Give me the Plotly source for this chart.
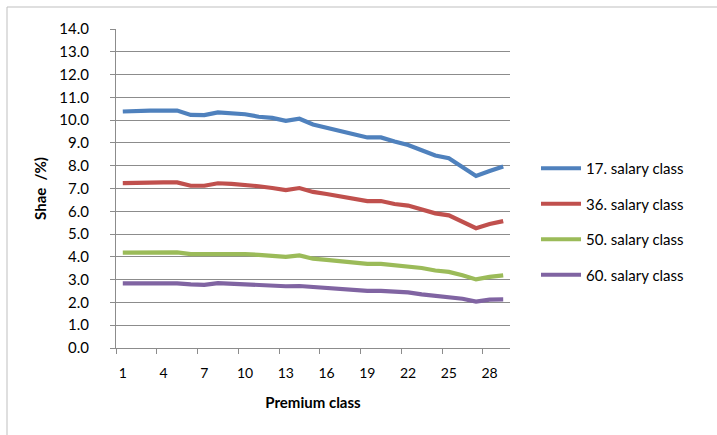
import plotly.graph_objects as go

# Premium classes 1..29
premium_class = list(range(1, 30))

share_17 = [10.38, 10.41, 10.42, 10.42, 10.42, 10.23, 10.22, 10.34, 10.32, 10.26,
            10.15, 10.10, 9.97, 10.06, 9.81, 9.68, 9.53, 9.38, 9.24, 9.24,
            9.06, 8.91, 8.68, 8.45, 8.33, 7.96, 7.55, 7.77, 7.97]
share_36 = [7.24, 7.26, 7.27, 7.27, 7.27, 7.12, 7.12, 7.23, 7.20, 7.17,
            7.10, 7.02, 6.93, 7.02, 6.85, 6.76, 6.67, 6.57, 6.45, 6.45,
            6.32, 6.25, 6.08, 5.91, 5.82, 5.54, 5.26, 5.44, 5.57]
share_50 = [4.19, 4.20, 4.20, 4.20, 4.20, 4.12, 4.12, 4.16, 4.13, 4.12,
            4.09, 4.04, 4.00, 4.06, 3.92, 3.87, 3.81, 3.74, 3.69, 3.69,
            3.63, 3.60, 3.51, 3.40, 3.34, 3.19, 3.01, 3.12, 3.19]
share_60 = [2.84, 2.84, 2.84, 2.84, 2.84, 2.79, 2.77, 2.85, 2.82, 2.81,
            2.75, 2.74, 2.71, 2.72, 2.68, 2.63, 2.59, 2.54, 2.51, 2.51,
            2.47, 2.44, 2.35, 2.29, 2.25, 2.16, 2.04, 2.12, 2.13]

series_names = ["17. salary class", "36. salary class", "50. salary class", "60. salary class"]
series_values = [share_17, share_36, share_50, share_60]
series_colors = ["#4F81BD", "#C0504D", "#9BBB59", "#8064A2"]

x_tick_labels = [str(v) for v in premium_class[::3]]
y_tick_values = list(range(0, 15))

FONT = "Lato"
GRID = "#8C8C8C"

fig = go.Figure()
for name, vals, col in zip(series_names, series_values, series_colors):
    fig.add_trace(go.Scatter(
        x=premium_class, y=vals, name=name, mode="lines",
        line=dict(color=col, width=4.2), legendgroup=name,
    ))

W, H = 717, 435
L, R, T, B = 116, 207, 29, 87
pw, ph = W - L - R, H - T - B


def px_x(p):
    return (p - L) / pw


def px_y(p):
    return (H - B - p) / ph


fig.update_layout(
    width=W, height=H,
    margin=dict(l=L, r=R, t=T, b=B),
    paper_bgcolor="white", plot_bgcolor="white",
    font=dict(family=FONT, size=14, color="#000000"),
    showlegend=True,
    legend=dict(
        x=px_x(536), xanchor="left", y=px_y(152), yanchor="top",
        font=dict(family=FONT, size=15, color="#000000"),
        tracegroupgap=13, itemwidth=40, traceorder="grouped",
        bgcolor="rgba(0,0,0,0)",
    ),
    xaxis=dict(
        range=[0.5, 29.5],
        tickmode="array", tickvals=premium_class[::3], ticktext=x_tick_labels,
        ticks="", showgrid=False, zeroline=False,
        showline=True, linecolor=GRID, linewidth=1,
        ticklabelstandoff=12,
        tickfont=dict(family=FONT, size=14),
        minor=dict(
            tickmode="array",
            tickvals=[v + 0.5 for v in range(0, 30, 3)],
            ticks="outside", ticklen=5, tickwidth=1, tickcolor=GRID,
            showgrid=False,
        ),
        title=dict(text="<b>Premium class</b>", font=dict(family=FONT, size=15), standoff=17),
    ),
    yaxis=dict(
        range=[0, 14],
        tickmode="array", tickvals=y_tick_values,
        ticktext=[f"{v:.1f}" for v in y_tick_values],
        showgrid=True, gridcolor=GRID, gridwidth=1, zeroline=False,
        showline=True, linecolor=GRID, linewidth=1,
        ticks="outside", ticklen=5, tickwidth=1, tickcolor=GRID,
        ticklabelstandoff=18,
        tickfont=dict(family=FONT, size=15),
        title=dict(text="<b>Shae \u00a0/%)</b>", font=dict(family=FONT, size=15), standoff=9),
    ),
    shapes=[dict(
        type="path", xref="paper", yref="paper",
        path=f"M {px_x(7)} {px_y(435)} L {px_x(7)} {px_y(7)} L {px_x(717)} {px_y(7)}",
        line=dict(color="#BFBFBF", width=1),
    )],
)

fig.write_html("out.html")
